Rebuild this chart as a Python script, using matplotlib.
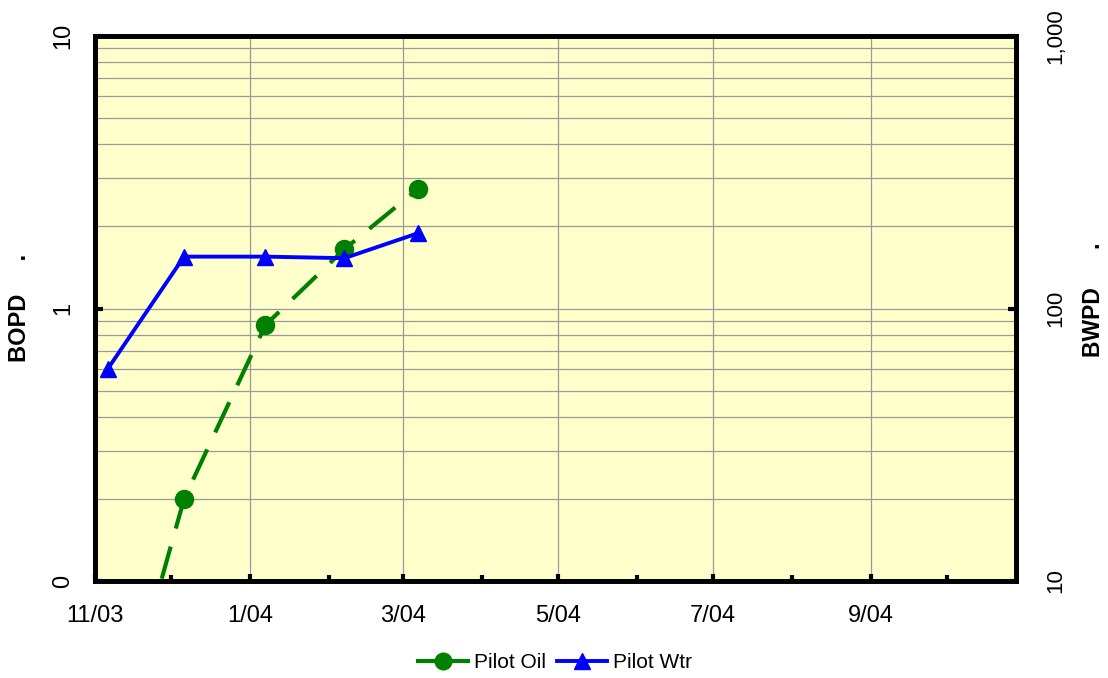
import matplotlib
matplotlib.use("Agg")
import matplotlib.pyplot as plt
import matplotlib.dates as mdates
from matplotlib.ticker import FixedLocator, FixedFormatter, LogLocator, NullFormatter
from matplotlib.lines import Line2D
import numpy as np

plt.rcParams['font.family'] = ['Liberation Sans', 'DejaVu Sans']

# ---- data ----
dates = ['2003-11-06', '2003-12-06', '2004-01-07', '2004-02-07', '2004-03-07']
oil_bopd = [0.02, 0.20, 0.87, 1.65, 2.75]
wtr_bwpd = [60, 155, 155, 153, 189]

x_range = ['2003-11-01', '2004-10-28']
x_major = ['2003-11-01', '2004-01-01', '2004-03-01', '2004-05-01', '2004-07-01', '2004-09-01']
x_major_labels = ['11/03', '1/04', '3/04', '5/04', '7/04', '9/04']
x_minor = ['2003-12-01', '2004-02-01', '2004-04-01', '2004-06-01', '2004-08-01', '2004-10-01']
left_ticks = [0.1, 1, 10]
left_labels = ['0', '1', '10']
right_ticks = [10, 100, 1000]
right_labels = ['10', '100', '1,000']

# ---- figure ----
W, H = 1108, 678
fig = plt.figure(figsize=(W / 100, H / 100), dpi=100)
L, R, T, B = 95, 1016, 36, 581
ax = fig.add_axes([L / W, 1 - B / H, (R - L) / W, (B - T) / H])
ax.set_facecolor('#FFFFCC')

xd = mdates.date2num(np.array(dates, dtype='datetime64[D]'))
xr = mdates.date2num(np.array(x_range, dtype='datetime64[D]'))
xmaj = mdates.date2num(np.array(x_major, dtype='datetime64[D]'))
xmin = mdates.date2num(np.array(x_minor, dtype='datetime64[D]'))

ax.set_yscale('log')
ax.set_ylim(0.1, 10)
ax.set_xlim(xr[0], xr[1])

green = '#008000'
blue = '#0000FF'

ax.plot(xd, oil_bopd, color=green, lw=3, linestyle=(0, (8, 4.5)),
        marker='o', markersize=13, zorder=3, label='Pilot Oil')

ax2 = ax.twinx()
ax2.set_yscale('log')
ax2.set_ylim(10, 1000)
ax2.patch.set_visible(False)
ax2.plot(xd, wtr_bwpd, color=blue, lw=2.8, marker='^', markersize=11,
         zorder=4, label='Pilot Wtr')

# grid
ax.xaxis.set_major_locator(FixedLocator(xmaj))
ax.xaxis.set_major_formatter(FixedFormatter(x_major_labels))
ax.xaxis.set_minor_locator(FixedLocator(xmin))
ax.yaxis.set_major_locator(FixedLocator(left_ticks))
ax.yaxis.set_major_formatter(FixedFormatter(left_labels))
ax.yaxis.set_minor_locator(LogLocator(base=10, subs=np.arange(2, 10)))
ax.yaxis.set_minor_formatter(NullFormatter())
ax.grid(True, which='major', axis='x', color='#999999', lw=0.9)
ax.grid(True, which='both', axis='y', color='#999999', lw=0.9)
ax.set_axisbelow(True)

ax.tick_params(axis='x', which='major', direction='in', length=5, width=3,
               labelsize=17, pad=17, top=False)
ax.tick_params(axis='x', which='minor', direction='in', length=4, width=3, top=False)
ax.tick_params(axis='y', which='major', direction='in', length=6, width=3,
               labelsize=17, pad=15)
ax.tick_params(axis='y', which='minor', length=0)
for lab in ax.get_yticklabels():
    lab.set_rotation(90)
    lab.set_va('center')

ax2.yaxis.set_major_locator(FixedLocator(right_ticks))
ax2.yaxis.set_major_formatter(FixedFormatter(right_labels))
ax2.yaxis.set_minor_locator(FixedLocator([]))
ax2.tick_params(axis='y', which='major', direction='in', length=6, width=3,
                labelsize=16, pad=21)
for lab in ax2.get_yticklabels():
    lab.set_rotation(90)
    lab.set_va('center')

for a in (ax, ax2):
    for s in a.spines.values():
        s.set_linewidth(3.4)
        s.set_color('black')

# axis titles
fig.text(20 / W, 1 - 308 / H, 'BOPD     .', rotation=90, fontsize=17,
         fontweight='bold', ha='center', va='center')
fig.text(1093 / W, 1 - 300 / H, 'BWPD      .', rotation=90, fontsize=16.5,
         fontweight='bold', ha='center', va='center')

# legend
h1 = Line2D([], [], color=green, lw=3, marker='o', markersize=12)
h2 = Line2D([], [], color=blue, lw=2.8, marker='^', markersize=11)
fig.legend([h1, h2], ['Pilot Oil', 'Pilot Wtr'], loc='center',
           bbox_to_anchor=(555 / W, 1 - 663 / H), ncol=2, frameon=False,
           fontsize=15, handlelength=2.4, handletextpad=0.3, columnspacing=0.5)

fig.savefig('out.png', dpi=100)
